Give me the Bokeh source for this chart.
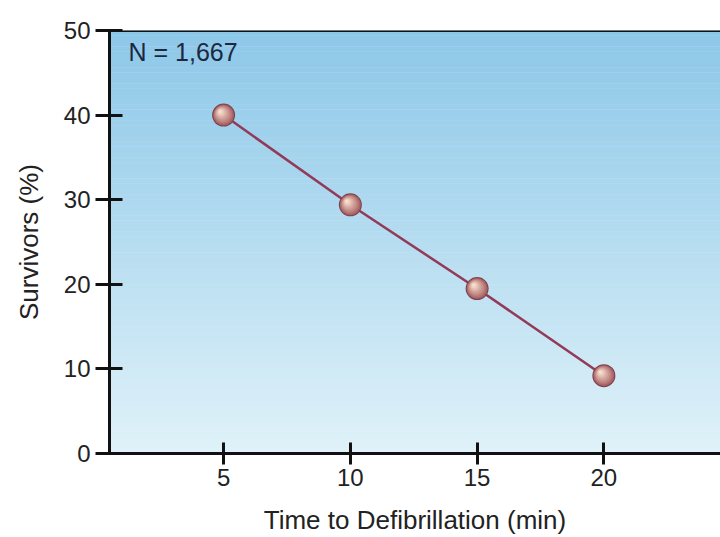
import numpy as np
from bokeh.plotting import figure
from bokeh.models import Range1d, FixedTicker, Span, Label
from bokeh.embed import file_html
from bokeh.resources import INLINE

# ---- data ----
time_min = [5, 10, 15, 20]
survivors_pct = [40.0, 29.4, 19.5, 9.2]
x_ticks = [5, 10, 15, 20]
y_ticks = [0, 10, 20, 30, 40, 50]
n_label = "N = 1,667"

X0, X1 = 0.5, 24.6
Y0, Y1 = 0, 50
FONT = "Liberation Sans"

W, H = 720, 537
ML, MT, MB, MR = 109, 30, 83, 0
fw = W - ML - MR
fh = H - MT - MB

p = figure(width=W, height=H, output_backend="svg", toolbar_location=None,
           x_range=Range1d(X0, X1), y_range=Range1d(Y0, Y1),
           min_border_left=ML, min_border_top=MT, min_border_bottom=MB,
           min_border_right=MR)
p.outline_line_color = None
p.grid.visible = False
p.background_fill_color = "#cfe9f5"
p.border_fill_color = "white"

# gradient background (top darker blue, bottom pale)
n = 80
edges = np.linspace(Y0, Y1, n + 1)
top_c = np.array([140, 199, 232])
bot_c = np.array([224, 242, 249])
cols = []
for i in range(n):
    t = (edges[i] + edges[i + 1]) / 2 / (Y1 - Y0)
    c = bot_c + (top_c - bot_c) * t
    cols.append("#%02x%02x%02x" % tuple(int(round(v)) for v in c))
p.quad(left=X0, right=X1, bottom=edges[:-1], top=edges[1:] + 0.02,
       fill_color=cols, line_color=None)

# top border line
p.add_layout(Span(location=Y1, dimension="width", line_color="#111111", line_width=3))

# data line
p.line(time_min, survivors_pct, line_color="#923a58", line_width=2.5)

# spheres
dxp = (X1 - X0) / fw
dyp = (Y1 - Y0) / fh
xs = np.array(time_min, dtype=float)
ys = np.array(survivors_pct, dtype=float)
p.scatter(xs, ys, size=23, fill_color="#7c4250", line_color=None)
layers = 9
c_out = np.array([168, 98, 100])
c_in = np.array([248, 222, 205])
for k in range(layers):
    t = k / (layers - 1)
    size = 21 - 18 * t
    off = 3.5 * t
    c = c_out + (c_in - c_out) * (t ** 0.9)
    col = "#%02x%02x%02x" % tuple(int(round(v)) for v in c)
    p.scatter(xs - off * dxp, ys + off * dyp, size=size, fill_color=col, line_color=None)

# N label
p.add_layout(Label(x=X0 + 19 * dxp, y=Y1 - 22 * dyp, text=n_label,
                   text_font=FONT, text_font_size="25px", text_color="#1c2840",
                   text_align="left", text_baseline="middle"))

# axes
for ax in (p.xaxis[0], p.yaxis[0]):
    ax.axis_line_width = 3
    ax.axis_line_color = "#111111"
    ax.major_tick_line_width = 3
    ax.major_tick_line_color = "#111111"
    ax.minor_tick_line_color = None
    ax.major_label_text_font = FONT
    ax.major_label_text_font_size = "24px"
    ax.major_label_text_color = "#222222"
    ax.axis_label_text_font = FONT
    ax.axis_label_text_font_size = "26px"
    ax.axis_label_text_font_style = "normal"
    ax.axis_label_text_color = "#222222"

p.xaxis.ticker = FixedTicker(ticks=x_ticks)
p.yaxis.ticker = FixedTicker(ticks=y_ticks)
p.xaxis.major_tick_in = 11
p.xaxis.major_tick_out = 11
p.yaxis.major_tick_in = 13
p.yaxis.major_tick_out = 14
p.xaxis.major_label_standoff = 4
p.yaxis.major_label_standoff = 5
p.xaxis.axis_label = "Time to Defibrillation (min)"
p.yaxis.axis_label = "Survivors (%)"
p.xaxis.axis_label_standoff = 16
p.yaxis.axis_label_standoff = 17

open("out.html", "w").write(file_html(p, INLINE))
